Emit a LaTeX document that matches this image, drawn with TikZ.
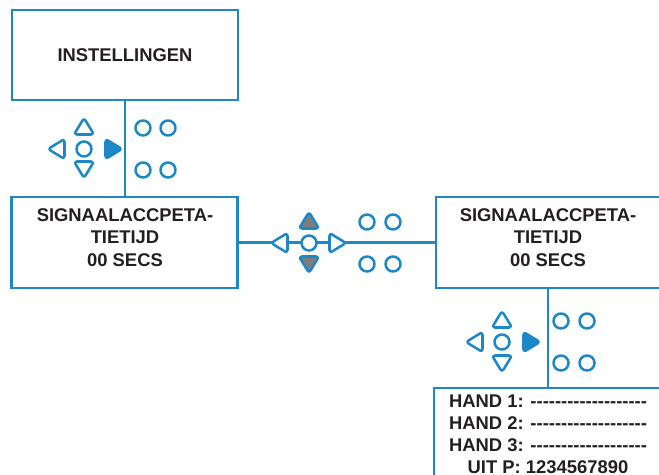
\documentclass[tikz,border=0pt]{standalone}
\usepackage{fontspec}
\setmainfont{Liberation Sans}
\definecolor{pblue}{HTML}{1E88C6}
\definecolor{pgray}{HTML}{7D7D7D}
\definecolor{ptext}{HTML}{231F20}
\newcommand\padtri[3]{\draw[btn,fill=#3,shift={#1},rotate=#2] (0,-9) -- (10,7.5) -- (-10,7.5) -- cycle;}
\newcommand\padcirc[1]{\draw[btn] #1 circle[radius=7.5];}
\newcommand\hd{-\kern0pt}
\newcommand\dashrow{\hd\hd\hd\hd\hd\hd\hd\hd\hd\hd\hd\hd\hd\hd\hd\hd\hd\hd\hd}
\begin{document}
\begin{tikzpicture}[x=0.75pt,y=-0.75pt,
  box/.style={draw=pblue, line width=2.2pt, fill=white, inner sep=0pt},
  conn/.style={draw=pblue, line width=2.2pt},
  btn/.style={draw=pblue, line width=1.9pt, fill=white, line join=round, rounded corners=2.2pt},
  lbl/.style={text=ptext, font=\bfseries\fontsize{13.8}{16.9}\selectfont, align=center, inner sep=0pt}]
\useasboundingbox (0,0) rectangle (659,474);
\clip (0,0) rectangle (659,474);
% boxes
\node[box, minimum width=169.5pt, minimum height=67.5pt] (b1) at (125,55) {};
\node[box, minimum width=170pt, minimum height=68.25pt] (b2) at (124.5,242.5) {};
\node[box, minimum width=168pt, minimum height=68.25pt] (b3) at (548,242.5) {};
\node[box, minimum width=169.5pt, minimum height=70.5pt] (b4) at (547,435) {};
% texts
\node[lbl] (t1) at (125,55) {INSTELLINGEN};
\node[lbl] (t2) at (125,237.5) {SIGNAALACCPETA-\\TIETIJD\\00 SECS};
\node[lbl] (t3) at (548,237.5) {SIGNAALACCPETA-\\TIETIJD\\00 SECS};
\node[lbl, font=\bfseries\fontsize{13.8}{16.5}\selectfont] (t4) at (548,434) {HAND 1: \dashrow\\HAND 2: \dashrow\\HAND 3: \dashrow\\UIT P: 1234567890};
% connectors
\draw[conn] (b1.south) -- (b1.south |- b2.north);
\draw[conn] (b2.east) -- (b3.west);
\draw[conn] (b3.south) -- (b3.south |- b4.north);
% left keypad
\padtri{(84,127)}{0}{white}
\padtri{(84,169)}{180}{white}
\padtri{(57,149)}{90}{white}
\padtri{(113,149)}{-90}{pblue}
\padcirc{(84,149)}
\padcirc{(143,128)}\padcirc{(168,128)}\padcirc{(143,170)}\padcirc{(168,170)}
% middle keypad
\padtri{(309,221)}{0}{pgray}
\padtri{(309,264)}{180}{pgray}
\padtri{(280,243)}{90}{white}
\padtri{(337,243)}{-90}{white}
\padcirc{(309,243)}
\padcirc{(367,222)}\padcirc{(393,222)}\padcirc{(367,264)}\padcirc{(393,264)}
% right keypad
\padtri{(502,320)}{0}{white}
\padtri{(502,363)}{180}{white}
\padtri{(475,342)}{90}{white}
\padtri{(531,342)}{-90}{pblue}
\padcirc{(502,342)}
\padcirc{(561,321)}\padcirc{(587,321)}\padcirc{(561,363)}\padcirc{(587,363)}
\end{tikzpicture}
\end{document}
